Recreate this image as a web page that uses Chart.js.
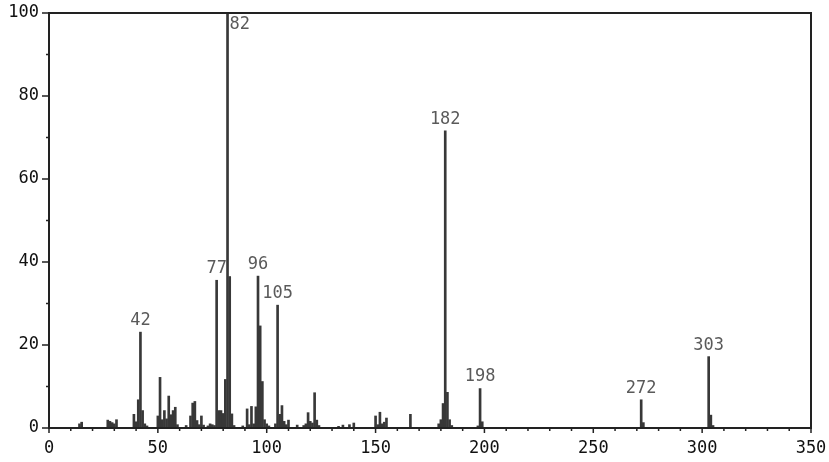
<!DOCTYPE html>
<html>
<head>
<meta charset="utf-8">
<script src="https://cdn.jsdelivr.net/npm/chart.js@4/dist/chart.umd.min.js"></script>
<style>
  html, body { margin: 0; padding: 0; background: #fff; }
  #wrap { width: 829px; height: 462px; }
</style>
</head>
<body>
<div id="wrap"><canvas id="spectrum"></canvas></div>
<script>
// m/z values and relative intensities (%)
const mz = [14, 15, 27, 28, 29, 30, 31, 39, 40, 41, 42, 43, 44, 45,
    50, 51, 52, 53, 54, 55, 56, 57, 58, 59, 63, 65, 66, 67, 68, 69, 70, 71,
    73, 74, 75, 76, 77, 78, 79, 80, 81, 82, 83, 84, 85, 89, 91, 92, 93, 94,
    95, 96, 97, 98, 99, 100, 101, 104, 105, 106, 107, 108, 109, 110, 114,
    117, 118, 119, 120, 121, 122, 123, 124, 133, 135, 138, 140, 150, 151,
    152, 153, 154, 155, 166, 179, 180, 181, 182, 183, 184, 185, 197, 198,
    199, 272, 273, 303, 304, 305];
const intensity = [1.0, 1.4, 1.9, 1.6, 1.3, 1.0, 2.0, 3.3, 1.5, 6.8, 23.1, 4.2, 1.0, 0.5,
    2.9, 12.2, 2.0, 4.2, 2.2, 7.7, 3.2, 4.2, 5.0, 0.8, 0.6, 2.9, 6.0, 6.4, 1.8, 0.8, 2.9, 0.7,
    0.5, 1.0, 0.8, 0.6, 35.6, 4.2, 4.2, 3.5, 11.7, 100, 36.5, 3.4, 0.6, 0.5, 4.6, 0.8, 5.2, 1.0,
    5.1, 36.6, 24.6, 11.2, 2.0, 1.0, 0.5, 1.0, 29.6, 3.3, 5.4, 1.6, 0.8, 1.9, 0.7,
    0.6, 1.0, 3.7, 1.6, 1.2, 8.5, 1.9, 0.6, 0.4, 0.7, 0.8, 1.2, 2.9, 0.8,
    3.8, 1.0, 1.4, 2.4, 3.3, 1.0, 2.0, 5.9, 71.6, 8.6, 2.0, 0.6, 0.5, 9.5,
    1.5, 6.8, 1.3, 17.2, 3.1, 0.6];
// peaks that carry an m/z label
const labelledPeaks = [42, 77, 82, 96, 105, 182, 198, 272, 303];
const xTicks = [0, 50, 100, 150, 200, 250, 300, 350];
const yTicks = [0, 20, 40, 60, 80, 100];

const tickFont = { family: 'DejaVu Sans Mono', size: 17 };

// frame + small tick marks (major/minor) drawn from the scales
const framePlugin = {
    id: 'frame',
    afterDraw(chart) {
        const ctx = chart.ctx;
        const a = chart.chartArea;
        const xs = chart.scales.x, ys = chart.scales.y;
        ctx.save();
        ctx.strokeStyle = '#222';
        ctx.lineWidth = 2;
        ctx.strokeRect(a.left, a.top, a.right - a.left, a.bottom - a.top);
        ctx.lineWidth = 1.5;
        ctx.beginPath();
        for (let v = 0; v <= 350; v += 10) {
            const px = xs.getPixelForValue(v);
            const len = xTicks.includes(v) ? 5 : 3;
            ctx.moveTo(px, a.bottom);
            ctx.lineTo(px, a.bottom + len);
        }
        for (let v = 0; v <= 100; v += 10) {
            const py = ys.getPixelForValue(v);
            const len = yTicks.includes(v) ? 7 : 3;
            ctx.moveTo(a.left, py);
            ctx.lineTo(a.left - len, py);
        }
        ctx.stroke();
        ctx.restore();
    }
};

// m/z labels above the main peaks
const peakLabelPlugin = {
    id: 'peakLabels',
    afterDatasetsDraw(chart) {
        const ctx = chart.ctx;
        const xs = chart.scales.x, ys = chart.scales.y;
        ctx.save();
        ctx.font = '17px "DejaVu Sans Mono"';
        ctx.fillStyle = '#5a5a5a';
        labelledPeaks.forEach(m => {
            const i = mz.indexOf(m);
            const px = xs.getPixelForValue(m);
            const py = ys.getPixelForValue(intensity[i]);
            if (intensity[i] >= 99) {
                ctx.textAlign = 'left';
                ctx.textBaseline = 'top';
                ctx.fillText(String(m), px + 2, py + 3);
            } else {
                ctx.textAlign = 'center';
                ctx.textBaseline = 'bottom';
                ctx.fillText(String(m), px, py - 3);
            }
        });
        ctx.restore();
    }
};

const ctx = document.getElementById('spectrum').getContext('2d');
const spectrumChart = new Chart(ctx, {
    type: 'bar',
    data: {
        datasets: [{
            data: mz.map((m, i) => ({ x: m, y: intensity[i] })),
            backgroundColor: '#383838',
            barThickness: 2
        }]
    },
    options: {
        responsive: true,
        maintainAspectRatio: false,
        animation: false,
        layout: { padding: { top: 13, right: 18, left: 0, bottom: 0 } },
        plugins: {
            legend: { display: false },
            tooltip: { enabled: false }
        },
        scales: {
            x: {
                type: 'linear',
                min: 0,
                max: 350,
                offset: false,
                grid: { display: false },
                border: { display: false },
                afterBuildTicks: scale => { scale.ticks = xTicks.map(v => ({ value: v })); },
                ticks: { font: tickFont, color: '#111', padding: 2, maxRotation: 0, autoSkip: false },
                afterFit: scale => { scale.height = 34; }
            },
            y: {
                min: 0,
                max: 100,
                grid: { display: false },
                border: { display: false },
                afterBuildTicks: scale => { scale.ticks = yTicks.map(v => ({ value: v })); },
                ticks: { font: tickFont, color: '#111', padding: 2 },
                afterFit: scale => { scale.width = 49; }
            }
        }
    },
    plugins: [framePlugin, peakLabelPlugin]
});
</script>
</body>
</html>
